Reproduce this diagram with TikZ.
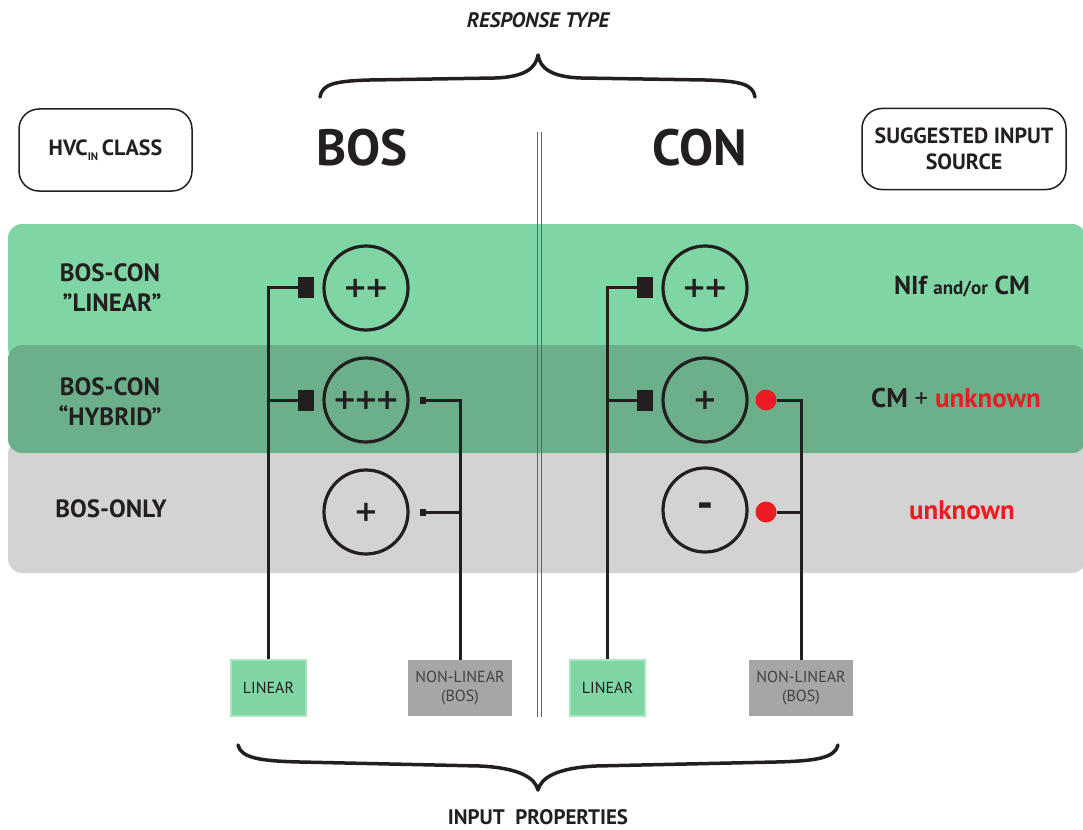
\documentclass[tikz,border=0pt]{standalone}
\usepackage{fontspec}
\setmainfont{PT Sans}
\newfontfamily\plusfont{DejaVu Sans}
\definecolor{lgreen}{HTML}{7FD6A4}
\definecolor{dgreen}{HTML}{6BB08B}
\definecolor{gband}{HTML}{D3D3D3}
\definecolor{gbox}{HTML}{A7A5A6}
\definecolor{ink}{HTML}{231F20}
\definecolor{redu}{HTML}{ED1C24}
\definecolor{lborder}{HTML}{A8E6C2}
\newcommand{\fs}[2]{\fontsize{#1}{#2}\selectfont}
\newcommand{\pk}{\kern-3pt}
\begin{document}
\begin{tikzpicture}[x=1pt,y=-1pt,
  every node/.style={text=ink},
  circ/.style={circle,draw=ink,line width=3.2pt,minimum size=84pt,inner sep=0pt,font=\plusfont\bfseries\fs{29}{29}},
  sqc/.style={rectangle,fill=ink,minimum width=16pt,minimum height=21pt,inner sep=0pt},
  tickc/.style={rectangle,fill=ink,minimum width=6pt,minimum height=7pt,inner sep=0pt},
  rdot/.style={circle,fill=redu,minimum size=21pt,inner sep=0pt},
  conn/.style={draw=ink,line width=3pt},
  linbox/.style={rectangle,fill=lgreen,draw=lborder,line width=1.5pt,minimum width=75pt,minimum height=56pt,inner sep=0pt,font=\fs{16}{19},align=center},
  nlbox/.style={rectangle,fill=gbox,minimum width=104pt,minimum height=56pt,inner sep=0pt,font=\fs{16}{19},align=center,text=ink!85},
  hdr/.style={rectangle,draw=ink,rounded corners=20pt,line width=1.5pt,align=center,inner sep=0pt,font=\bfseries\fs{22}{26}},
  rowlab/.style={font=\bfseries\fs{25}{30},align=center},
  big/.style={font=\bfseries\fs{51}{51}},
  brace/.style={draw=ink,line width=3.5pt,line cap=round,line join=round},
  title/.style={font=\bfseries\fs{21}{21}}
]
\useasboundingbox (0,0) rectangle (1083,829);

% bands
\fill[lgreen,rounded corners=14pt] (8,224) rectangle (1086,362);
\fill[gband,rounded corners=14pt] (8,440) rectangle (1086,573);
\fill[dgreen,rounded corners=14pt] (8,345) rectangle (1086,453);

% double divider
\draw[line width=1pt,ink!70] (537,132) -- (537,717);
\draw[line width=1pt,ink!70] (541,132) -- (541,717);

% titles
\node[font=\bfseries\itshape\fs{21}{21}] (rtype) at (538,20) {RESPONSE TYPE};
\node[title] (iprop) at (538,817) {INPUT\ \ PROPERTIES};

% braces
\draw[brace] (320,97) .. controls (322,84) and (335,81) .. (370,80) -- (495,78) .. controls (525,77) and (536,68) .. (538,55) .. controls (540,68) and (551,77) .. (581,78) -- (705,80) .. controls (740,81) and (753,84) .. (755,97);
\draw[brace] (238,745) .. controls (241,758) and (260,761) .. (300,762) -- (480,766) .. controls (520,768) and (535,778) .. (538,790) .. controls (541,778) and (556,768) .. (596,766) -- (776,762) .. controls (816,761) and (835,758) .. (838,745);

% header boxes
\node[hdr,minimum width=173pt,minimum height=82pt] (hvc) at (105.5,150) {HVC\raisebox{-0.45ex}{\fs{11}{11}IN}\,CLASS};
\node[hdr,minimum width=204pt,minimum height=81pt] (sis) at (964,149) {SUGGESTED INPUT\\SOURCE};
\node[big] (bos) at (362,148) {BOS};
\node[big] (con) at (700,148) {CON};

% row labels
\node[rowlab] (r1) at (110,288) {BOS-CON\\\,''LINEAR''};
\node[rowlab] (r2) at (110,402) {BOS-CON\\``HYBRID''};
\node[rowlab] (r3) at (111,509) {BOS-ONLY};

% suggested sources
\node[font=\bfseries\fs{26}{26}] (s1) at (962,287) {NIf {\fs{19}{19}and/or} CM};
\node[font=\bfseries\fs{27}{27}] (s2) at (956,398) {CM {\mdseries +} \textcolor{redu}{unknown}};
\node[font=\bfseries\fs{27}{27},text=redu] (s3) at (962,510) {unknown};

% BOS column
\node[circ] (b1) at (366,288) {+\pk+};
\node[circ] (b2) at (366,400) {+\pk+\pk+};
\node[circ] (b3) at (366,512) {+};
\node[sqc] (bs1) at (306,287) {};
\node[sqc] (bs2) at (306,400) {};
\node[tickc] (bt2) at (423,400) {};
\node[tickc] (bt3) at (423,512) {};

% CON column
\node[circ] (c1) at (705,288) {+\pk+};
\node[circ] (c2) at (705,400) {+};
\node[circ,font=\plusfont\bfseries\fs{38}{38}] (c3) at (705,510) {-};
\node[sqc] (cs1) at (645,287) {};
\node[sqc] (cs2) at (645,400) {};
\node[rdot] (cr2) at (766,400) {};
\node[rdot] (cr3) at (766,512) {};

% input boxes
\node[linbox] (bl) at (268.5,688) {LINEAR};
\node[nlbox] (bn) at (460,688) {NON-LINEAR\\(BOS)};
\node[linbox] (cl) at (607.5,688) {LINEAR};
\node[nlbox] (cn) at (801,688) {NON-LINEAR\\(BOS)};

% connectors
\draw[conn] (bl.north) |- (bs1.west);
\draw[conn] (bl.north |- bs2.west) -- (bs2.west);
\draw[conn] (bn.north) |- (bt2.east);
\draw[conn] (bn.north |- bt3.east) -- (bt3.east);
\draw[conn] (cl.north) |- (cs1.west);
\draw[conn] (cl.north |- cs2.west) -- (cs2.west);
\draw[conn] (cn.north) |- (cr2.east);
\draw[conn] (cn.north |- cr3.east) -- (cr3.east);
\end{tikzpicture}
\end{document}
